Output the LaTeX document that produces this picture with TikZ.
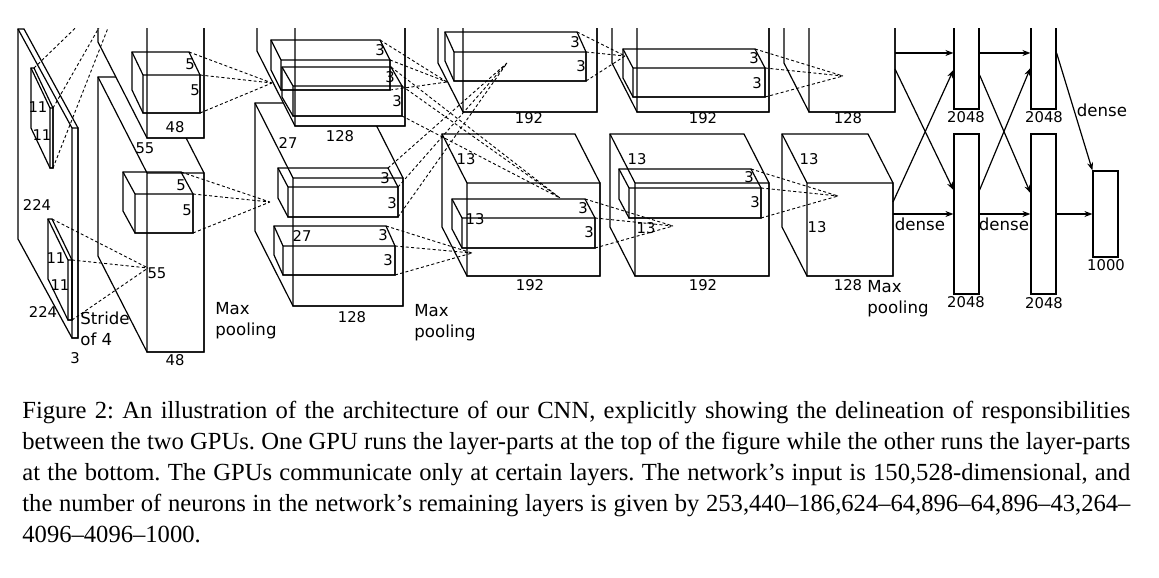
\documentclass[tikz,border=0pt]{standalone}
\usepackage{fontspec}
\setmainfont{Liberation Serif}
\newfontfamily\labfont{DejaVu Sans}
\usetikzlibrary{positioning}
\usetikzlibrary {arrows.meta}
\tikzset{layer/.style={draw=black,fill=white,line width=0.6pt}}
\tikzset{kernel/.style={draw=black,line width=0.6pt}}
\tikzset{lbl/.style={font=\labfont\fontsize{7.4}{8}\selectfont,inner sep=0pt}}
\tikzset{pool/.style={font=\labfont\fontsize{8.3}{10.5}\selectfont,inner sep=0pt,align=left,anchor=west}}
\tikzset{fc/.style={rectangle,draw=black,fill=white,line width=0.6pt,inner sep=0pt,minimum width=12.5pt}}
\tikzset{rf/.style={dash pattern=on 1.5pt off 1.2pt,line width=0.45pt}}
\tikzset{dn/.style={line width=0.6pt,-{Stealth[length=4pt]}}}
% name, x, y, w, h, dx, dy (pixels, y down)
\newcommand{\cuboid}[8][layer]{%
  \coordinate (#2-ftl) at (#3,#4);
  \coordinate (#2-ftr) at (#3+#5,#4);
  \coordinate (#2-fbr) at (#3+#5,#4+#6);
  \coordinate (#2-fbl) at (#3,#4+#6);
  \coordinate (#2-btl) at (#3-#7,#4-#8);
  \coordinate (#2-btr) at (#3+#5-#7,#4-#8);
  \coordinate (#2-bbl) at (#3-#7,#4+#6-#8);
  \draw[#1] (#2-fbl) -- (#2-bbl) -- (#2-btl) -- (#2-btr) -- (#2-ftr) -- (#2-fbr) -- cycle;
  \draw[#1,fill=none] (#2-ftl) rectangle (#2-fbr) (#2-ftl) -- (#2-btl);
}
\begin{document}
\begin{tikzpicture}[x=0.5pt,y=-0.5pt]
\useasboundingbox (0,0) rectangle (1159,577);
\begin{scope}
\clip (0,29) rectangle (1159,400);
% input
\cuboid{inp}{72}{128}{6}{210}{54}{99}
% conv1
\cuboid{c1b}{147}{173}{57}{179}{49}{96}
\cuboid{c1t}{147}{-41}{57}{179}{49}{96}
% conv2
\cuboid{c2b}{293}{178}{110}{128}{38}{75}
\cuboid{c2t}{295}{-2}{110}{128}{38}{75}
% conv3
\cuboid{c3b}{467}{183}{133}{93}{25}{49}
\cuboid{c3t}{463}{19}{134}{93}{25}{49}
% conv4
\cuboid{c4b}{635}{183}{134}{93}{25}{49}
\cuboid{c4t}{637}{19}{132}{93}{25}{49}
% conv5
\cuboid{c5b}{807}{183}{86}{93}{25}{49}
\cuboid{c5t}{809}{19}{86}{93}{25}{49}
% kernels
\cuboid[kernel]{k0t}{50}{108}{3}{60}{19}{40}
\cuboid[kernel]{k0b}{68}{260}{4}{60}{20}{41}
\cuboid[kernel]{k1t}{143}{75}{57}{38}{11}{23}
\cuboid[kernel]{k1b}{135}{194}{58}{39}{12}{22}
\cuboid[kernel]{k2a}{281}{60}{109}{30}{10}{20}
\cuboid[kernel]{k2b}{293}{86}{109}{30}{11}{19}
\cuboid[kernel]{k2c}{288}{187}{110}{30}{10}{19}
\cuboid[kernel]{k2d}{283}{246}{112}{29}{9}{20}
\cuboid[kernel]{k3t}{454}{52}{132}{29}{9}{20}
\cuboid[kernel]{k3b}{462}{218}{133}{30}{10}{19}
\cuboid[kernel]{k4t}{633}{68}{132}{29}{10}{19}
\cuboid[kernel]{k4b}{629}{188}{132}{30}{10}{19}
% receptive field targets
\coordinate (p1t) at (128,-23);
\coordinate (p1b) at (148,268);
\coordinate (p2t) at (272,83);
\coordinate (p2b) at (270,202);
\coordinate (p3a) at (447,82);
\coordinate (p3c) at (507,63);
\coordinate (p3b) at (560,198);
\coordinate (p3d) at (472,253);
\coordinate (p4t) at (625,56);
\coordinate (p4b) at (673,226);
\coordinate (p5t) at (843,76);
\coordinate (p5b) at (838,196);
\foreach \k/\p in {k0t/p1t,k0b/p1b,k1t/p2t,k1b/p2b,k2a/p3a,k2b/p3b,k2c/p3c,k2d/p3d,k3t/p4t,k3b/p4b,k4t/p5t,k4b/p5b}
  \draw[rf] (\k-btr) -- (\p) (\k-ftr) -- (\p) (\k-fbr) -- (\p);
% dense layers
\node[fc,minimum height=84.5pt] (fc1t) at (966.5,24.5) {};
\node[fc,minimum height=80pt] (fc1b) at (966.5,214) {};
\node[fc,minimum height=84.5pt] (fc2t) at (1043.5,24.5) {};
\node[fc,minimum height=80pt] (fc2b) at (1043.5,214) {};
\node[fc,minimum height=43pt] (out) at (1105.5,214) {};
\coordinate (ca) at (895,53);
\coordinate (cb) at (895,69);
\coordinate (cc) at (893,202);
\coordinate (cd) at (893,214);
\draw[dn] (ca) -- (fc1t.west|-ca);
\draw[dn] (cb) -- ([yshift=12pt]fc1b.west);
\draw[dn] (cc) -- ([yshift=-22.75pt]fc1t.west);
\draw[dn] (cd) -- (fc1b.west);
\draw[dn] ([yshift=-14.25pt]fc1t.east) -- ([yshift=-14.25pt]fc2t.west);
\draw[dn] ([yshift=-25.25pt]fc1t.east) -- ([yshift=10.5pt]fc2b.west);
\draw[dn] ([yshift=12pt]fc1b.east) -- ([yshift=-21.75pt]fc2t.west);
\draw[dn] (fc1b.east) -- (fc2b.west);
\draw[dn] ([yshift=-14.25pt]fc2t.east) -- (out.north west);
\draw[dn] (fc2b.east) -- (out.west);
\end{scope}
% labels
\node[lbl] at (38,107) {11};
\node[lbl] at (42,135) {11};
\node[lbl] at (56,258) {11};
\node[lbl] at (60,285) {11};
\node[lbl] at (37,205) {224};
\node[lbl] at (43,312) {224};
\node[lbl] at (75,358) {3};
\node[pool] at (80,329) {Stride\\of 4};
\node[lbl] at (190,64) {5};
\node[lbl] at (195,90) {5};
\node[lbl] at (181,185) {5};
\node[lbl] at (187,210) {5};
\node[lbl] at (175,127) {48};
\node[lbl] at (145,148) {55};
\node[lbl] at (157,273) {55};
\node[lbl] at (175,360) {48};
\node[pool] at (215,321) {Max\\pooling};
\node[lbl] at (380,50) {3};
\node[lbl] at (390,77) {3};
\node[lbl] at (397,101) {3};
\node[lbl] at (385,178) {3};
\node[lbl] at (392,203) {3};
\node[lbl] at (383,235) {3};
\node[lbl] at (388,260) {3};
\node[lbl] at (288,143) {27};
\node[lbl] at (340,136) {128};
\node[lbl] at (302,236) {27};
\node[lbl] at (352,317) {128};
\node[pool] at (414,323) {Max\\pooling};
\node[lbl] at (575,42) {3};
\node[lbl] at (581,66) {3};
\node[lbl] at (583,208) {3};
\node[lbl] at (589,232) {3};
\node[lbl] at (466,159) {13};
\node[lbl] at (475,219) {13};
\node[lbl] at (529,118) {192};
\node[lbl] at (530,285) {192};
\node[lbl] at (754,58) {3};
\node[lbl] at (757,83) {3};
\node[lbl] at (749,177) {3};
\node[lbl] at (755,202) {3};
\node[lbl] at (637,159) {13};
\node[lbl] at (646,228) {13};
\node[lbl] at (703,118) {192};
\node[lbl] at (703,285) {192};
\node[lbl] at (809,159) {13};
\node[lbl] at (817,227) {13};
\node[lbl] at (848,118) {128};
\node[lbl] at (848,285) {128};
\node[pool] at (867,299) {Max\\pooling};
\node[pool,anchor=center] at (920,224) {dense};
\node[pool,anchor=center] at (1004,224) {dense};
\node[pool,anchor=center] at (1102,110) {dense};
\node[lbl] at (966,117) {2048};
\node[lbl] at (966,302) {2048};
\node[lbl] at (1044,117) {2048};
\node[lbl] at (1044,303) {2048};
\node[lbl] at (1106,265) {1000};
% caption
\node[anchor=north west,inner sep=0pt,text width=554pt,align=justify,
  font=\fontsize{12.3}{15.5}\selectfont\frenchspacing] (cap) at (22,401)
{Figure 2: An illustration of the architecture of our CNN, explicitly showing the delineation of responsibilities\linebreak
between the two GPUs. One GPU runs the layer-parts at the top of the figure while the other runs the layer-parts\linebreak
at the bottom. The GPUs communicate only at certain layers. The network’s input is 150,528-dimensional, and\linebreak
the number of neurons in the network’s remaining layers is given by 253,440–186,624–64,896–64,896–43,264–\linebreak
4096–4096–1000.};
\end{tikzpicture}
\end{document}
